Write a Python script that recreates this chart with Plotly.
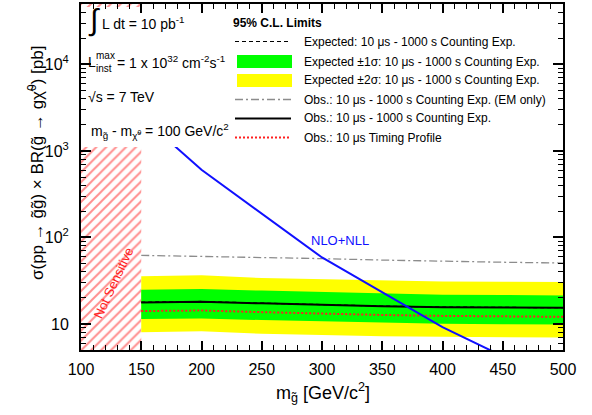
import math
import plotly.graph_objects as go

# ---------------- data ----------------
mass = [150, 200, 250, 300, 350, 400, 450, 500]            # gluino mass [GeV/c^2]
exp_2s_hi = [35.7, 36.5, 33.9, 32.7, 31.9, 31.0, 30.8, 30.5]
exp_2s_lo = [8.04, 8.26, 7.71, 7.41, 7.22, 7.11, 7.03, 6.98]
exp_1s_hi = [24.9, 25.3, 24.3, 23.3, 22.5, 21.8, 21.6, 21.4]
exp_1s_lo = [11.4, 11.6, 11.1, 10.7, 10.35, 10.05, 9.95, 9.86]
expected = [17.9, 18.2, 17.4, 16.6, 16.1, 15.7, 15.5, 15.4]
observed = [17.7, 18.1, 17.3, 16.5, 16.0, 15.6, 15.5, 15.4]
obs_em_only = [62.1, 60.5, 58.5, 56.9, 54.8, 52.9, 51.7, 50.6]
obs_timing = [14.1, 14.3, 13.7, 13.1, 12.7, 12.4, 12.3, 12.1]
nlo_mass = [150, 200, 300, 400, 500]
nlo_xsec = [2500, 606, 58.7, 9.2, 1.95]
not_sensitive = [100, 150]

x_range = [100, 500]
y_range = [5, 5e4]
x_tick_vals = [100, 150, 200, 250, 300, 350, 400, 450, 500]
y_tick_vals = [10, 100, 1000, 10000]
y_tick_text = ["10", "10<sup>2</sup>", "10<sup>3</sup>", "10<sup>4</sup>"]

# ---------------- geometry helpers ----------------
W, H = 592, 415
L, R, T, B = 81, 29, 4, 65
PW, PH = W - L - R, H - T - B
FONT = "Liberation Sans"


def pxx(x):  # pixel -> paper
    return (x - L) / PW


def pxy(y):
    return (H - B - y) / PH


def xdata(x):
    return x_range[0] + (x - L) / PW * (x_range[1] - x_range[0])


def ydata(y):
    lo, hi = math.log10(y_range[0]), math.log10(y_range[1])
    return 10 ** (lo + (H - B - y) / PH * (hi - lo))


fig = go.Figure()

# not-sensitive hatched region
fig.add_trace(go.Scatter(
    x=[not_sensitive[0], not_sensitive[1], not_sensitive[1], not_sensitive[0], not_sensitive[0]],
    y=[y_range[0], y_range[0], y_range[1], y_range[1], y_range[0]],
    fill="toself", mode="lines", line=dict(width=0), fillcolor="rgba(0,0,0,0)",
    fillpattern=dict(shape="/", fgcolor="rgb(255,30,30)", bgcolor="white", size=7, solidity=0.28),
    showlegend=False, hoverinfo="skip"))

# +-2 sigma band
fig.add_trace(go.Scatter(x=mass, y=exp_2s_lo, mode="lines", line=dict(width=0),
                         showlegend=False, hoverinfo="skip"))
fig.add_trace(go.Scatter(x=mass, y=exp_2s_hi, mode="lines", line=dict(width=0),
                         fill="tonexty", fillcolor="#ffff00", showlegend=False,
                         name="Expected ±2σ"))
# +-1 sigma band
fig.add_trace(go.Scatter(x=mass, y=exp_1s_lo, mode="lines", line=dict(width=0),
                         showlegend=False, hoverinfo="skip"))
fig.add_trace(go.Scatter(x=mass, y=exp_1s_hi, mode="lines", line=dict(width=0),
                         fill="tonexty", fillcolor="#00ff00", showlegend=False,
                         name="Expected ±1σ"))

fig.add_trace(go.Scatter(x=mass, y=obs_em_only, mode="lines", showlegend=False,
                         line=dict(color="#8c8c8c", width=1.3, dash="8px,3px,2px,3px")))
fig.add_trace(go.Scatter(x=mass, y=observed, mode="lines", showlegend=False,
                         line=dict(color="black", width=2)))
fig.add_trace(go.Scatter(x=mass, y=expected, mode="lines", showlegend=False,
                         line=dict(color="black", width=1.2, dash="4px,3px")))
fig.add_trace(go.Scatter(x=mass, y=obs_timing, mode="lines", showlegend=False,
                         line=dict(color="#ff2020", width=2, dash="2px,2px")))
fig.add_trace(go.Scatter(x=nlo_mass, y=nlo_xsec, mode="lines", showlegend=False,
                         line=dict(color="#1010ff", width=2)))

# white info pave covering the upper-left part of the frame
pave_x = [xdata(L), xdata(226), xdata(226), xdata(L), xdata(L)]
pave_y = [ydata(147), ydata(147), ydata(7), ydata(7), ydata(147)]
fig.add_trace(go.Scatter(x=pave_x, y=pave_y, fill="toself", fillcolor="white",
                         mode="lines", line=dict(width=0), showlegend=False, hoverinfo="skip"))

ann = []


def text(x, y, s, size=14, color="black", xanchor="left", angle=0):
    ann.append(dict(x=pxx(x), y=pxy(y), xref="paper", yref="paper", text=s, showarrow=False,
                    xanchor=xanchor, yanchor="middle", textangle=angle,
                    font=dict(family=FONT, size=size, color=color)))


# info texts
text(86, 20, "∫", size=30)
text(100, 23, "L dt = 10 pb<sup>-1</sup>", size=14)
text(86, 62, "L", size=14)
text(94, 55, "max", size=10)
text(94, 68, "inst", size=10)
text(115, 62, "= 1 x 10<sup>32</sup> cm<sup>-2</sup>s<sup>-1</sup>", size=14)
text(86, 97, "√s = 7 TeV", size=14)
text(89, 131, "m<sub>g̃</sub> - m<sub>χ̃<sup>0</sup></sub> = 100 GeV/c<sup>2</sup>", size=14)

# legend
text(231, 23, "<b>95% C.L. Limits</b>", size=12)
leg_rows = [41.5, 61.5, 80.5, 99.5, 118.5, 137.5]
leg_text = [
    "Expected: 10 μs - 1000 s Counting Exp.",
    "Expected ±1σ: 10 μs - 1000 s Counting Exp.",
    "Expected ±2σ: 10 μs - 1000 s Counting Exp.",
    "Obs.: 10 μs - 1000 s Counting Exp. (EM only)",
    "Obs.: 10 μs - 1000 s Counting Exp.",
    "Obs.: 10 μs Timing Profile",
]
for yy, s in zip(leg_rows, leg_text):
    text(302, yy, s, size=12)

shapes = []


def hline(y, color, width, dash):
    shapes.append(dict(type="line", xref="paper", yref="paper", x0=pxx(235), x1=pxx(291),
                       y0=pxy(y), y1=pxy(y), line=dict(color=color, width=width, dash=dash)))


def box(y, color):
    shapes.append(dict(type="rect", xref="paper", yref="paper", x0=pxx(237), x1=pxx(292),
                       y0=pxy(y - 6.5), y1=pxy(y + 6.5), fillcolor=color, line=dict(width=0)))


hline(leg_rows[0], "black", 1.2, "4px,3px")
box(leg_rows[1], "#00ff00")
box(leg_rows[2], "#ffff00")
hline(leg_rows[3], "#8c8c8c", 1.3, "8px,3px,2px,3px")
hline(leg_rows[4], "black", 2, "solid")
hline(leg_rows[5], "#ff2020", 2, "2px,2px")

# curve / region labels
text(340, 240, "NLO+NLL", size=13, color="#1010ff", xanchor="center")
text(113, 283, "Not Sensitive", size=13, color="#ff2020", xanchor="center", angle=-65)

# axis titles
text(323, 392, "m<sub>g̃</sub> [GeV/c<sup>2</sup>]", size=18, xanchor="center")
text(36, 163, "σ(pp → g̃g̃) × BR(g̃ → gχ̃<sup>0</sup>) [pb]", size=17, xanchor="center", angle=-90)

y_minor = [m * 10 ** e for e in range(0, 5) for m in range(2, 10)
           if y_range[0] < m * 10 ** e < y_range[1]]

fig.update_layout(
    width=W, height=H, margin=dict(l=L, r=R, t=T, b=B, autoexpand=False),
    paper_bgcolor="white", plot_bgcolor="white",
    font=dict(family=FONT, color="black"),
    showlegend=False, annotations=ann, shapes=shapes,
    xaxis=dict(range=x_range, tickvals=x_tick_vals, ticks="inside", ticklen=9, tickwidth=1.5,
               tickcolor="black", showline=True, linecolor="black", linewidth=2, mirror="allticks",
               showgrid=False, zeroline=False, tickfont=dict(size=16), ticklabelstandoff=4,
               automargin=False,
               minor=dict(dtick=10, ticks="inside", ticklen=5, tickwidth=1, tickcolor="black")),
    yaxis=dict(type="log", range=[math.log10(y_range[0]), math.log10(y_range[1])],
               tickvals=y_tick_vals, ticktext=y_tick_text, ticks="inside", ticklen=10, tickwidth=1.5,
               tickcolor="black", showline=True, linecolor="black", linewidth=2, mirror="allticks",
               showgrid=False, zeroline=False, tickfont=dict(size=16), ticklabelstandoff=7,
               automargin=False,
               minor=dict(tickmode="array", tickvals=y_minor, ticks="inside", ticklen=5,
                          tickwidth=1, tickcolor="black")),
)

fig.write_html("out.html", config={"displayModeBar": False},
               post_script="document.body.style.margin='0';")
